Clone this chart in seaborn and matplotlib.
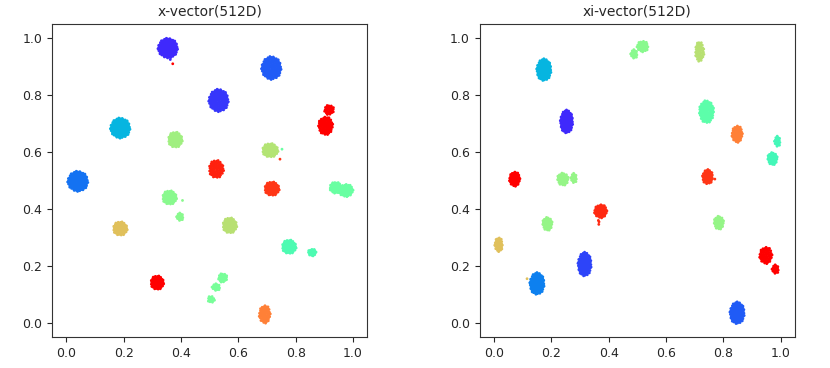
import numpy as np
import pandas as pd
import matplotlib
matplotlib.use("Agg")
import matplotlib.pyplot as plt
from matplotlib.colors import ListedColormap
import seaborn as sns

sns.set_style("ticks")

# Cluster blobs: centre, extent (data units), colour value
# on the rainbow map and how many dots the blob holds.
titles = ["x-vector(512D)", "xi-vector(512D)"]

x_cx = [0.354, 0.362, 0.371, 0.715, 0.531, 0.188, 0.380, 0.711, 0.752, 0.745,
        0.916, 0.904, 0.523, 0.040, 0.717, 0.940, 0.975, 0.360, 0.396, 0.405,
        0.188, 0.570, 0.777, 0.857, 0.317, 0.545, 0.522, 0.505, 0.692]
x_cy = [0.965, 0.932, 0.910, 0.895, 0.781, 0.684, 0.643, 0.606, 0.610, 0.575,
        0.748, 0.692, 0.540, 0.497, 0.471, 0.475, 0.465, 0.440, 0.372, 0.430,
        0.331, 0.342, 0.267, 0.247, 0.141, 0.158, 0.125, 0.082, 0.030]
x_w = [0.070, 0.012, 0.0, 0.070, 0.070, 0.070, 0.050, 0.056, 0.0, 0.0,
       0.035, 0.052, 0.052, 0.072, 0.052, 0.045, 0.052, 0.050, 0.025, 0.0,
       0.050, 0.050, 0.050, 0.030, 0.046, 0.032, 0.030, 0.025, 0.040]
x_h = [0.070, 0.018, 0.0, 0.082, 0.080, 0.072, 0.056, 0.050, 0.0, 0.0,
       0.035, 0.064, 0.064, 0.072, 0.050, 0.040, 0.045, 0.050, 0.028, 0.0,
       0.050, 0.056, 0.050, 0.025, 0.050, 0.032, 0.025, 0.025, 0.064]
x_hue = [0.08, 0.08, 1.00, 0.15, 0.10, 0.28, 0.60, 0.63, 0.50, 0.90,
         1.00, 1.00, 0.93, 0.18, 0.90, 0.50, 0.50, 0.56, 0.56, 0.56,
         0.70, 0.64, 0.45, 0.45, 1.00, 0.53, 0.53, 0.53, 0.80]
x_n = [130, 4, 1, 130, 130, 130, 70, 70, 1, 1,
       30, 80, 70, 130, 70, 50, 60, 70, 20, 1,
       70, 70, 70, 25, 70, 30, 20, 15, 60]

xi_cx = [0.488, 0.518, 0.717, 0.174, 0.253, 0.741, 0.848, 0.988, 0.971, 0.072,
         0.240, 0.278, 0.745, 0.770, 0.372, 0.365, 0.186, 0.784, 0.016, 0.316,
         0.150, 0.115, 0.948, 0.981, 0.848]
xi_cy = [0.944, 0.971, 0.953, 0.889, 0.707, 0.742, 0.663, 0.637, 0.577, 0.505,
         0.505, 0.508, 0.513, 0.505, 0.392, 0.355, 0.348, 0.352, 0.275, 0.206,
         0.138, 0.155, 0.237, 0.188, 0.035]
xi_w = [0.025, 0.040, 0.032, 0.052, 0.045, 0.052, 0.038, 0.022, 0.035, 0.038,
        0.040, 0.022, 0.038, 0.0, 0.045, 0.005, 0.035, 0.035, 0.028, 0.048,
        0.052, 0.0, 0.045, 0.025, 0.052]
xi_h = [0.032, 0.040, 0.070, 0.078, 0.082, 0.080, 0.060, 0.038, 0.045, 0.052,
        0.045, 0.035, 0.052, 0.0, 0.048, 0.020, 0.048, 0.048, 0.052, 0.085,
        0.078, 0.0, 0.060, 0.032, 0.078]
xi_hue = [0.56, 0.56, 0.64, 0.28, 0.08, 0.48, 0.80, 0.43, 0.43, 1.00,
          0.58, 0.58, 0.90, 0.90, 0.92, 0.92, 0.58, 0.58, 0.70, 0.12,
          0.20, 0.70, 1.00, 1.00, 0.15]
xi_n = [20, 40, 50, 110, 110, 100, 60, 20, 45, 60,
        45, 20, 55, 1, 60, 3, 45, 45, 40, 110,
        110, 1, 60, 20, 110]


def blob_frame(cx, cy, w, h, hue, n):
    # spread each blob's dots evenly over its ellipse (sunflower layout)
    rows = []
    golden = np.pi * (3 - np.sqrt(5))
    for x0, y0, ww, hh, c, k in zip(cx, cy, w, h, hue, n):
        idx = np.arange(k)
        r = np.sqrt((idx + 0.5) / k)
        t = idx * golden
        rows.append(pd.DataFrame({
            "x": x0 + ww / 2 * r * np.cos(t),
            "y": y0 + hh / 2 * r * np.sin(t),
            "c": c,
        }))
    return pd.concat(rows, ignore_index=True)


panels = [
    blob_frame(x_cx, x_cy, x_w, x_h, x_hue, x_n),
    blob_frame(xi_cx, xi_cy, xi_w, xi_h, xi_hue, xi_n),
]

# rainbow map, a touch deeper than matplotlib's to match the saturated dots
base = plt.get_cmap("rainbow")(np.linspace(0, 1, 256))
base[:, :3] = base[:, :3] ** 1.3
deep_rainbow = ListedColormap(base)

fig = plt.figure(figsize=(8.3, 3.68), dpi=100)
ax_left = fig.add_axes([0.0627, 0.084, 0.380, 0.851])
ax_right = fig.add_axes([0.578, 0.084, 0.380, 0.851])

for ax, df, title in zip([ax_left, ax_right], panels, titles):
    sns.scatterplot(data=df, x="x", y="y", hue="c", palette=deep_rainbow,
                    hue_norm=(0, 1), s=4, linewidth=0, legend=False, ax=ax)
    ax.set_xlim(-0.05, 1.05)
    ax.set_ylim(-0.05, 1.05)
    ax.set_xticks(np.arange(0, 1.01, 0.2))
    ax.set_yticks(np.arange(0, 1.01, 0.2))
    ax.set_xlabel("")
    ax.set_ylabel("")
    ax.set_title(title, fontsize=10)
    ax.tick_params(labelsize=9)
    for sp in ax.spines.values():
        sp.set_visible(True)
        sp.set_color("#333333")

fig.savefig("out.png", dpi=100)
